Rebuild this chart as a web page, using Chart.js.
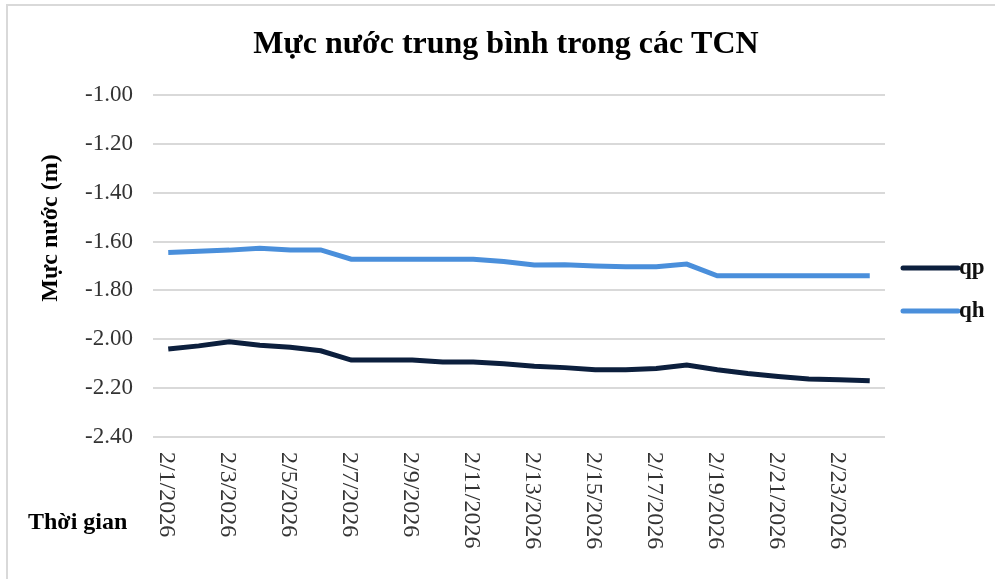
<!DOCTYPE html>
<html>
<head>
<meta charset="utf-8">
<script src="https://cdn.jsdelivr.net/npm/chart.js@4/dist/chart.umd.min.js"></script>
<style>
  html, body { margin: 0; padding: 0; background: #fff; }
  #wrap { width: 995px; height: 579px; position: relative; }
</style>
</head>
<body>
<div id="wrap"><canvas id="waterLevel" width="995" height="579"></canvas></div>
<script>
// ngày quan trắc
const dates = ['2/1/2026','2/2/2026','2/3/2026','2/4/2026','2/5/2026','2/6/2026','2/7/2026','2/8/2026',
  '2/9/2026','2/10/2026','2/11/2026','2/12/2026','2/13/2026','2/14/2026','2/15/2026','2/16/2026',
  '2/17/2026','2/18/2026','2/19/2026','2/20/2026','2/21/2026','2/22/2026','2/23/2026','2/24/2026'];

const qp = [-2.04, -2.027, -2.01, -2.024, -2.033, -2.047, -2.085, -2.085, -2.085, -2.093, -2.093, -2.10,
  -2.11, -2.116, -2.125, -2.125, -2.12, -2.105, -2.125, -2.14, -2.152, -2.163, -2.166, -2.17];

const qh = [-1.645, -1.64, -1.635, -1.627, -1.634, -1.634, -1.672, -1.672, -1.672, -1.672, -1.672, -1.682,
  -1.696, -1.695, -1.70, -1.703, -1.703, -1.692, -1.74, -1.74, -1.74, -1.74, -1.74, -1.74];

const yMin = -2.4, yMax = -1.0, yStep = 0.2;

const serif = "'Liberation Serif', 'Times New Roman', serif";

// vẽ tiêu đề, nhãn trục, nhãn ngày và chú thích
const extras = {
    id: 'extras',
    afterDraw(chart) {
        const ctx = chart.ctx;
        const xs = chart.scales.x;
        ctx.save();

        // khung
        ctx.strokeStyle = '#d9d9d9';
        ctx.lineWidth = 2;
        ctx.beginPath();
        ctx.moveTo(7, 579);
        ctx.lineTo(7, 5);
        ctx.lineTo(995, 5);
        ctx.stroke();

        ctx.fillStyle = '#000';
        ctx.textAlign = 'center';
        ctx.textBaseline = 'middle';
        ctx.font = 'bold 32px ' + serif;
        ctx.fillText('Mực nước trung bình trong các TCN', 506, 45);

        // trục y
        ctx.save();
        ctx.translate(51, 228);
        ctx.rotate(-Math.PI / 2);
        ctx.font = 'bold 24px ' + serif;
        ctx.fillText('Mực nước (m)', 0, 0);
        ctx.restore();

        ctx.textAlign = 'left';
        ctx.font = 'bold 24px ' + serif;
        ctx.fillText('Thời gian', 28, 523);

        // nhãn ngày, xoay 90 độ
        ctx.fillStyle = '#333';
        ctx.font = '24px ' + serif;
        dates.forEach((d, i) => {
            if (i % 2 !== 0) return;
            const x = xs.getPixelForValue(i) - 2;
            ctx.save();
            ctx.translate(x, 452);
            ctx.rotate(Math.PI / 2);
            ctx.textAlign = 'left';
            ctx.textBaseline = 'middle';
            ctx.fillText(d, 0, 0);
            ctx.restore();
        });

        // chú thích
        const legendY = [268, 311];
        chart.data.datasets.forEach((ds, i) => {
            ctx.strokeStyle = ds.borderColor;
            ctx.lineWidth = 5;
            ctx.lineCap = 'round';
            ctx.beginPath();
            ctx.moveTo(903, legendY[i]);
            ctx.lineTo(958, legendY[i]);
            ctx.stroke();
            ctx.fillStyle = '#111';
            ctx.font = 'bold 23px ' + serif;
            ctx.textAlign = 'left';
            ctx.fillText(ds.label, 959, legendY[i]);
        });

        ctx.restore();
    }
};

new Chart(document.getElementById('waterLevel'), {
    type: 'line',
    data: {
        labels: dates,
        datasets: [
            { label: 'qp', data: qp, borderColor: '#0c1f3d', borderWidth: 5, pointRadius: 0, tension: 0 },
            { label: 'qh', data: qh, borderColor: '#4a8fdb', borderWidth: 5, pointRadius: 0, tension: 0 }
        ]
    },
    options: {
        responsive: false,
        animation: false,
        layout: { padding: { top: 95, right: 110, left: 0, bottom: 0 } },
        plugins: { legend: { display: false }, title: { display: false }, tooltip: { enabled: false } },
        scales: {
            x: {
                offset: true,
                grid: { display: false },
                border: { display: false },
                ticks: { display: false },
                afterFit(scale) { scale.height = 142; }
            },
            y: {
                min: yMin,
                max: yMax,
                ticks: {
                    stepSize: yStep,
                    padding: 20,
                    color: '#333',
                    font: { family: serif, size: 23 },
                    callback: v => v.toFixed(2)
                },
                grid: { color: '#d9d9d9', lineWidth: 2, drawTicks: false },
                border: { display: false },
                afterFit(scale) { scale.width = 153; }
            }
        }
    },
    plugins: [extras]
});
</script>
</body>
</html>
